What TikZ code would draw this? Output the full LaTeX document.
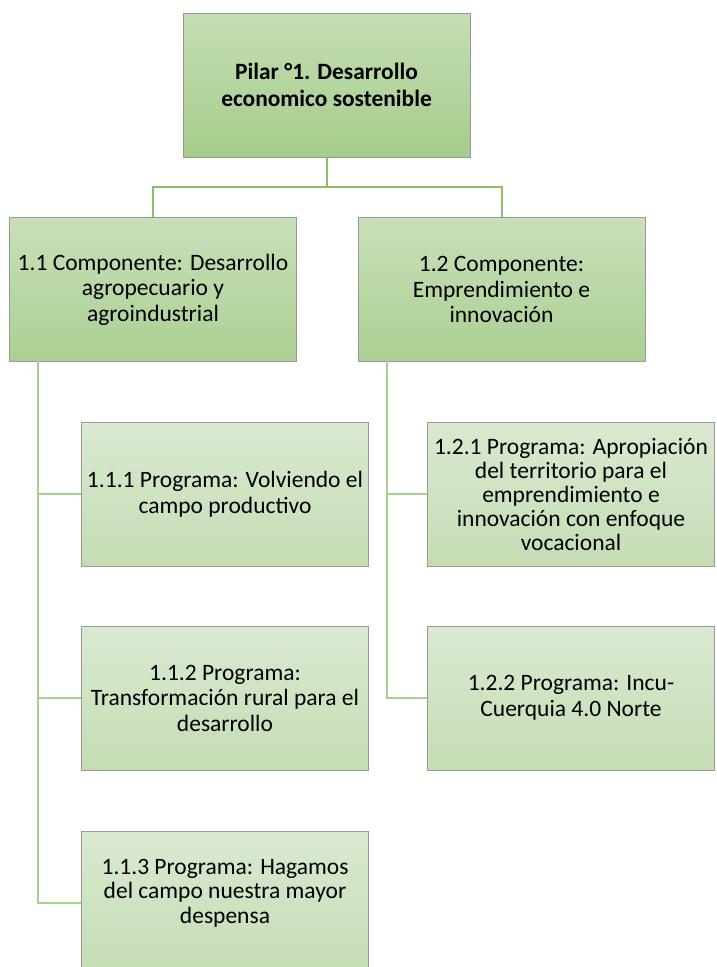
\documentclass[tikz,border=0pt]{standalone}
\usepackage{fontspec}
\setmainfont{Carlito}
\usetikzlibrary{calc}
\definecolor{lineA}{RGB}{139,190,106}
\definecolor{lineB}{RGB}{169,208,142}
\definecolor{topT}{RGB}{197,222,181}
\definecolor{topB}{RGB}{166,204,138}
\definecolor{compT}{RGB}{201,224,187}
\definecolor{compB}{RGB}{171,207,146}
\definecolor{progT}{RGB}{218,233,209}
\definecolor{progB}{RGB}{196,221,180}
\definecolor{edge}{RGB}{150,155,148}
\tikzset{
  box/.style={draw=edge, line width=1pt, minimum width=287pt, minimum height=144pt,
    inner sep=2pt, align=center, font=\fontsize{23.5}{25.5}\selectfont},
  pillar/.style={box, top color=topT, bottom color=topB, font=\bfseries\fontsize{23.4}{27}\selectfont},
  comp/.style={box, top color=compT, bottom color=compB},
  prog/.style={box, top color=progT, bottom color=progB},
  boxtext/.style={align=center, inner sep=0pt, font=\fontsize{23.5}{24.5}\selectfont},
  linkA/.style={draw=lineA, line width=2pt},
  linkB/.style={draw=lineB, line width=2pt}
}
\begin{document}
\begin{tikzpicture}[x=1pt,y=-1pt]
\useasboundingbox (0,0) rectangle (717,967);
\clip (0,0) rectangle (717,967);
\fill[white] (0,0) rectangle (717,967);
% nodes
\node[pillar] (top) at (326.5,85) {Pilar °1. Desarrollo\\economico sostenible};
\node[comp] (c1) at (153,289.5) {1.1 Componente: Desarrollo\\agropecuario y\\agroindustrial};
\node[comp] (c2) at (501.5,289.5) {1.2 Componente:\\Emprendimiento e\\innovación};
\node[prog] (p111) at (225,494) {1.1.1 Programa: Volviendo el\\campo productivo};
\node[prog] (p112) at (225,698) {1.1.2 Programa:\\Transformación rural para el\\desarrollo};
\node[prog] (p113) at (225,903) {};
\node[boxtext] (p113t) at (225,893) {1.1.3 Programa: Hagamos\\del campo nuestra mayor\\despensa};
\node[prog, font=\fontsize{23.5}{24}\selectfont] (p121) at (571,494) {1.2.1 Programa: Apropiación\\del territorio para el\\emprendimiento e\\innovación con enfoque\\vocacional};
\node[prog] (p122) at (571,698) {1.2.2 Programa: Incu-\\Cuerquia 4.0 Norte};
% connector points
\coordinate (hub) at ($(top.south)+(0,29)$);
\coordinate (s1) at (38,361);
\coordinate (s2) at (387,361);
% connectors
\draw[linkA] (top.south) -- (hub);
\draw[linkA] (hub) -| (c1.north);
\draw[linkA] (hub) -| (c2.north);
\draw[linkB] (s1) |- (p111.west);
\draw[linkB] (s1) |- (p112.west);
\draw[linkB] (s1) |- (p113.west);
\draw[linkB] (s2) |- (p121.west);
\draw[linkB] (s2) |- (p122.west);
\end{tikzpicture}
\end{document}
